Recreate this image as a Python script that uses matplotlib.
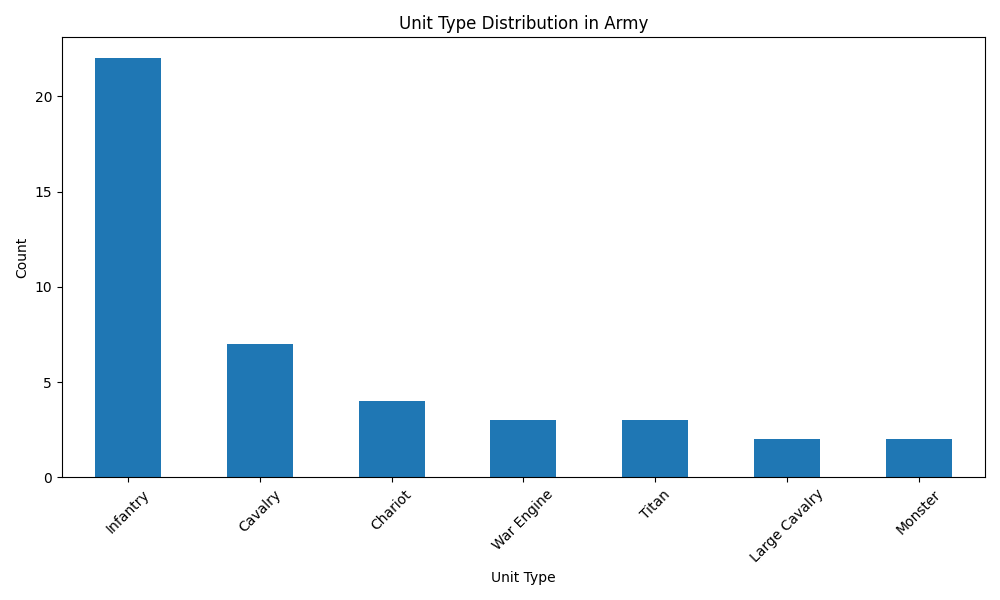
import pandas as pd
import matplotlib
matplotlib.use('Agg')
import matplotlib.pyplot as plt

# 유닛 종류별 개수
unit_types = ['Infantry', 'Cavalry', 'Chariot', 'War Engine', 'Titan', 'Large Cavalry', 'Monster']
counts = [22, 7, 4, 3, 3, 2, 2]

unit_count = pd.Series(counts, index=unit_types)

plt.figure(figsize=(10, 6))
unit_count.plot(kind='bar', color='#1f77b4')
plt.title('Unit Type Distribution in Army')
plt.xlabel('Unit Type')
plt.ylabel('Count')
plt.xticks(rotation=45)
plt.tight_layout()
plt.savefig('out.png', dpi=100)
